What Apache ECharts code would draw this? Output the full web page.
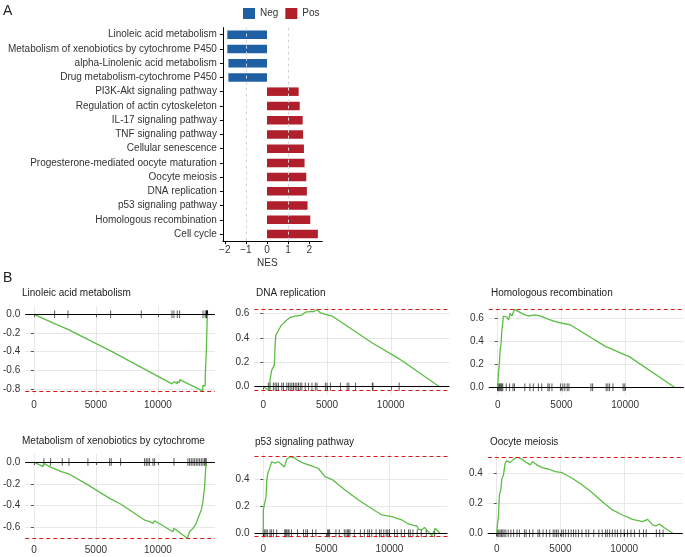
<!DOCTYPE html>
<html><head><meta charset="utf-8">
<script src="https://cdn.jsdelivr.net/npm/echarts@6/dist/echarts.min.js"></script>
<style>html,body{margin:0;padding:0;background:#fff}#c{width:685px;height:557px}</style>
</head><body><div id="c"></div>
<script>
// ---------- Panel A data ----------
const pathways = ['Linoleic acid metabolism','Metabolism of xenobiotics by cytochrome P450','alpha-Linolenic acid metabolism','Drug metabolism-cytochrome P450','PI3K-Akt signaling pathway','Regulation of actin cytoskeleton','IL-17 signaling pathway','TNF signaling pathway','Cellular senescence','Progesterone-mediated oocyte maturation','Oocyte meiosis','DNA replication','p53 signaling pathway','Homologous recombination','Cell cycle'];
const nesValues = [-1.88,-1.88,-1.83,-1.83,1.50,1.55,1.69,1.71,1.75,1.78,1.86,1.89,1.92,2.05,2.41];
const nesTicks = [-2,-1,0,1,2];
const nesRefLines = [-1,1];
const legendNames = ['Neg','Pos'];

// ---------- Panel B data ----------
const gseaTitles = ['Linoleic acid metabolism','DNA replication','Homologous recombination','Metabolism of xenobiotics by cytochrome','p53 signaling pathway','Oocyte meiosis'];
const geneTicks = [0,5000,10000];
const esTicksLinoleic = [-0.8,-0.6,-0.4,-0.2,0];
const esTicksDNA = [0,0.2,0.4,0.6];
const esTicksHR = [0,0.2,0.4,0.6];
const esTicksXeno = [-0.6,-0.4,-0.2,0];
const esTicksP53 = [0,0.2,0.4];
const esTicksOocyte = [0,0.2,0.4];

const curveLinoleic = [[0,0],[1667,-0.10],[1667,-0.088],[2742,-0.162],[2742,-0.15],[6183,-0.392],[6183,-0.382],[8656,-0.568],[8656,-0.558],[11130,-0.745],[11130,-0.728],[11290,-0.74],[11290,-0.722],[11560,-0.742],[11560,-0.718],[11750,-0.73],[11750,-0.70],[13600,-0.82],[13630,-0.822],[13630,-0.76],[13810,-0.768],[13810,-0.67],[13900,-0.675],[13900,-0.40],[13940,-0.2],[13970,-0.05],[14000,0]];
const hitsLinoleic = [1667,2742,6183,8656,11130,11290,11560,11750,13630,13810,13900,13920,13940,13960,13980,14000];

const curveDNA = [[0,0],[474,-0.033],[526,0.055],[605,0.05],[658,0.136],[789,0.14],[868,0.177],[921,0.33],[974,0.42],[1132,0.45],[1237,0.47],[1395,0.50],[1579,0.52],[1842,0.545],[2105,0.567],[2500,0.578],[3026,0.586],[3289,0.61],[3684,0.614],[3947,0.614],[4211,0.632],[4474,0.605],[4868,0.592],[5395,0.578],[8553,0.358],[8553,0.366],[10658,0.228],[10658,0.236],[13816,0]];
const hitsDNA = [395,526,789,921,1053,1184,1447,1579,1842,1974,2105,2237,2368,2500,2632,2763,2895,3026,3289,3553,3816,4079,4211,4868,5000,5263,6053,6579,6711,7237,8553,8605,10658];

const curveHR = [[0,0],[53,0.12],[132,0.21],[184,0.32],[263,0.38],[316,0.48],[395,0.557],[447,0.62],[711,0.61],[842,0.585],[974,0.643],[1105,0.62],[1237,0.609],[1316,0.678],[1895,0.643],[2158,0.629],[2421,0.62],[2947,0.629],[3474,0.614],[4000,0.591],[4526,0.571],[5053,0.557],[5711,0.542],[8474,0.354],[9000,0.33],[9789,0.29],[10316,0.267],[13868,0]];
const hitsHR = [0,50,133,200,266,330,399,665,931,1197,1316,2128,2527,2793,3191,3457,3936,4043,4255,4920,5106,5266,5452,5585,7314,7447,8511,8644,8777,9043,9840,9973];

const curveXeno = [[0,0],[726,-0.043],[806,-0.012],[1263,-0.043],[1344,-0.028],[2204,-0.089],[2285,-0.073],[2823,-0.11],[2876,-0.104],[4355,-0.21],[6102,-0.334],[6989,-0.386],[8925,-0.533],[9328,-0.548],[9597,-0.563],[9731,-0.539],[11210,-0.64],[11290,-0.609],[12366,-0.70],[12554,-0.64],[12823,-0.609],[13091,-0.563],[13226,-0.517],[13495,-0.44],[13629,-0.364],[13763,-0.227],[13817,-0.119],[13898,0]];
const hitsXeno = [806,1344,2285,2823,4355,6102,6237,6989,8925,9059,9194,9328,9597,9731,11290,12419,12554,12688,12823,12957,13091,13226,13360,13495,13629,13763,13817,13898];

const curveP53 = [[0,0],[0,0.173],[132,0.173],[212,0.27],[265,0.38],[344,0.44],[450,0.44],[529,0.49],[661,0.53],[926,0.52],[1190,0.53],[1455,0.51],[1667,0.49],[1852,0.548],[2116,0.568],[2513,0.556],[2778,0.538],[3175,0.519],[3836,0.499],[4365,0.48],[4894,0.42],[5423,0.40],[6481,0.32],[7540,0.247],[8333,0.198],[9392,0.136],[10185,0.123],[10979,0.099],[11508,0.069],[11905,0.059],[12169,0.054],[12302,0.03],[12566,0.025],[12778,0.044],[13360,-0.017],[13624,0.037],[14000,0]];
const hitsP53 = [0,106,212,318,531,637,796,1061,1698,1777,1857,1963,2043,2228,2706,3183,3369,3502,3899,4165,5094,5173,5253,5757,6022,6420,6553,6686,6765,6871,7216,7693,8012,8277,8410,8596,8940,9206,9339,9551,9736,9869,10002,10400,10612,10930,11196,11514,11647,11859,12204,12522,12920,13583];

const curveOocyte = [[0,0],[53,0.056],[132,0.111],[211,0.256],[316,0.289],[395,0.36],[526,0.389],[658,0.467],[789,0.484],[1053,0.471],[1316,0.493],[1579,0.507],[1842,0.50],[2237,0.478],[2632,0.456],[2816,0.478],[3158,0.456],[3553,0.438],[4079,0.427],[4605,0.411],[5132,0.404],[5921,0.367],[6711,0.322],[7500,0.271],[8289,0.211],[9079,0.156],[9868,0.122],[10658,0.093],[11447,0.078],[11842,0.093],[12237,0.056],[12500,0.049],[12763,0.062],[13026,0.044],[13816,0]];
const hitsOocyte = [53,159,265,371,478,584,716,902,1114,1327,1592,1778,2175,2308,2573,2839,3237,3369,3635,3900,4165,4431,4563,4696,4828,5094,5226,5412,5624,5837,6022,6208,6420,6686,7004,7216,7614,8012,8277,8543,8675,8861,9073,9286,9471,9737,10002,10267,10533,10798,11196,11514,11726,12522,12787,13052];

// ---------- build ----------
const FONT = "'Liberation Sans', Arial, Helvetica, sans-serif";
const TXT = '#333';
const panels = [
  {title:gseaTitles[0], curve:curveLinoleic, hits:hitsLinoleic, ticks:esTicksLinoleic},
  {title:gseaTitles[1], curve:curveDNA, hits:hitsDNA, ticks:esTicksDNA},
  {title:gseaTitles[2], curve:curveHR, hits:hitsHR, ticks:esTicksHR},
  {title:gseaTitles[3], curve:curveXeno, hits:hitsXeno, ticks:esTicksXeno},
  {title:gseaTitles[4], curve:curveP53, hits:hitsP53, ticks:esTicksP53},
  {title:gseaTitles[5], curve:curveOocyte, hits:hitsOocyte, ticks:esTicksOocyte}
];
// layout (pixels): panel left/width, y pixel of 0 and pixels per unit
const boxes = [
  {left:24, width:191, zeroY:314.3, ppu:93.4, tl:22, tt:288, xm:5},
  {left:254.4, width:195, zeroY:386.7, ppu:122.2, tl:256, tt:288, xm:5},
  {left:488.8, width:195, zeroY:387.3, ppu:115, tl:491, tt:288, xm:5},
  {left:24, width:191, zeroY:462, ppu:108.9, tl:22, tt:436, xm:3},
  {left:254.5, width:193, zeroY:533.3, ppu:135, tl:255, tt:437, xm:3},
  {left:487.8, width:195, zeroY:533.3, ppu:150, tl:490, tt:437, xm:3}
];
const XMIN = -700, XMAX = 14600;

const grid = [{left:222.9, top:27.6, width:99.4, height:213.6}];
const xAxis = [{
  gridIndex:0, type:'value', min:-2.09, max:2.62,
  axisLine:{show:true, onZero:false, lineStyle:{color:'#000', width:1}},
  axisTick:{show:true, length:3, lineStyle:{color:'#000'}, customValues:nesTicks},
  axisLabel:{customValues:nesTicks, fontSize:10, color:TXT, fontFamily:FONT, margin:4,
    formatter:v => (v < 0 ? '\u2212' + Math.abs(v) : String(v))},
  splitLine:{show:false}
}];
const yAxis = [{
  gridIndex:0, type:'category', data:pathways, inverse:true,
  axisLine:{show:true, onZero:false, lineStyle:{color:'#000', width:1}},
  axisTick:{show:true, length:3, alignWithLabel:true, lineStyle:{color:'#000'}},
  axisLabel:{fontSize:10, color:TXT, fontFamily:FONT, margin:6},
  splitLine:{show:false}
}];
const series = [
  {name:'Neg', type:'bar', xAxisIndex:0, yAxisIndex:0, barWidth:8.5, barGap:'-100%',
   itemStyle:{color:'#1f5fa3'}, data:nesValues.map(v => v < 0 ? v : '-')},
  {name:'Pos', type:'bar', xAxisIndex:0, yAxisIndex:0, barWidth:8.5, barGap:'-100%',
   itemStyle:{color:'#b01f2b'}, data:nesValues.map(v => v > 0 ? v : '-'),
   markLine:{silent:true, symbol:'none', label:{show:false}, z:10,
     lineStyle:{color:'#d4d4d4', type:[3,3], width:1},
     data:nesRefLines.map(v => ({xAxis:v}))}}
];
const titleStyle = (size, color) => ({fontSize:size, fontWeight:'normal', color:color, fontFamily:FONT});
const titles = [
  {text:'A', left:3, top:4, padding:0, textStyle:titleStyle(14, '#222')},
  {text:'B', left:3, top:271, padding:0, textStyle:titleStyle(14, '#222')},
  {text:'NES', left:257, top:258, padding:0, textStyle:titleStyle(10, TXT)}
];

panels.forEach((p, i) => {
  const b = boxes[i];
  const ys = p.curve.map(d => d[1]);
  const esMax = Math.max(...ys), esMin = Math.min(...ys);
  const h = (esMax - esMin) / 20;
  const lo0 = Math.min(esMin, -h), hi0 = Math.max(esMax, h);
  const pad = (hi0 - lo0) * 0.05;
  const lo = lo0 - pad, hi = hi0 + pad;
  const gi = i + 1;
  grid.push({left:b.left, width:b.width, top:b.zeroY - hi * b.ppu, height:(hi - lo) * b.ppu});
  xAxis.push({
    gridIndex:gi, type:'value', min:XMIN, max:XMAX,
    axisLine:{show:false},
    axisTick:{show:true, length:3, lineStyle:{color:'#555'}, customValues:geneTicks},
    axisLabel:{customValues:geneTicks, fontSize:10, color:TXT, fontFamily:FONT, margin:b.xm, formatter:v => String(v)},
    splitLine:{show:true, lineStyle:{color:'#e8e8e8', width:1}}
  });
  yAxis.push({
    gridIndex:gi, type:'value', min:lo, max:hi,
    axisLine:{show:false},
    axisTick:{show:true, length:3, lineStyle:{color:'#555'}, customValues:p.ticks},
    axisLabel:{customValues:p.ticks, fontSize:10, color:TXT, fontFamily:FONT, margin:5, formatter:v => v.toFixed(1)},
    splitLine:{show:true, lineStyle:{color:'#e8e8e8', width:1}}
  });
  titles.push({text:p.title, left:b.tl, top:b.tt, padding:0, textStyle:titleStyle(10, '#222')});
  series.push({
    type:'custom', xAxisIndex:gi, yAxisIndex:gi, silent:true, z:2,
    data:p.hits.map(v => [v, 0]), encode:{x:0, y:1},
    renderItem:(params, api) => {
      const x = api.value(0);
      const a = api.coord([x, -h]), c = api.coord([x, h]);
      return {type:'line', shape:{x1:a[0], y1:a[1], x2:c[0], y2:c[1]},
        style:{stroke:'rgba(0,0,0,0.65)', lineWidth:1}};
    }
  });
  series.push({
    type:'line', xAxisIndex:gi, yAxisIndex:gi, data:p.curve, showSymbol:false, silent:true, z:3,
    lineStyle:{color:'#5cbd45', width:1.3}, animation:false,
    markLine:{silent:true, symbol:'none', label:{show:false}, animation:false,
      data:[
        {yAxis:esMax, lineStyle:{color:'#d7191c', type:[4,3], width:1.2}},
        {yAxis:esMin, lineStyle:{color:'#d7191c', type:[4,3], width:1.2}},
        {yAxis:0, lineStyle:{color:'#000', type:'solid', width:1}}
      ]}
  });
});

const chart = echarts.init(document.getElementById('c'), null, {renderer:'canvas'});
chart.setOption({
  animation:false,
  backgroundColor:'#fff',
  title:titles,
  legend:{data:legendNames, left:238, top:3, icon:'rect', itemWidth:12, itemHeight:11, itemGap:7,
    textStyle:{fontSize:10, color:TXT, fontFamily:FONT}},
  grid:grid, xAxis:xAxis, yAxis:yAxis, series:series
});
</script></body></html>
